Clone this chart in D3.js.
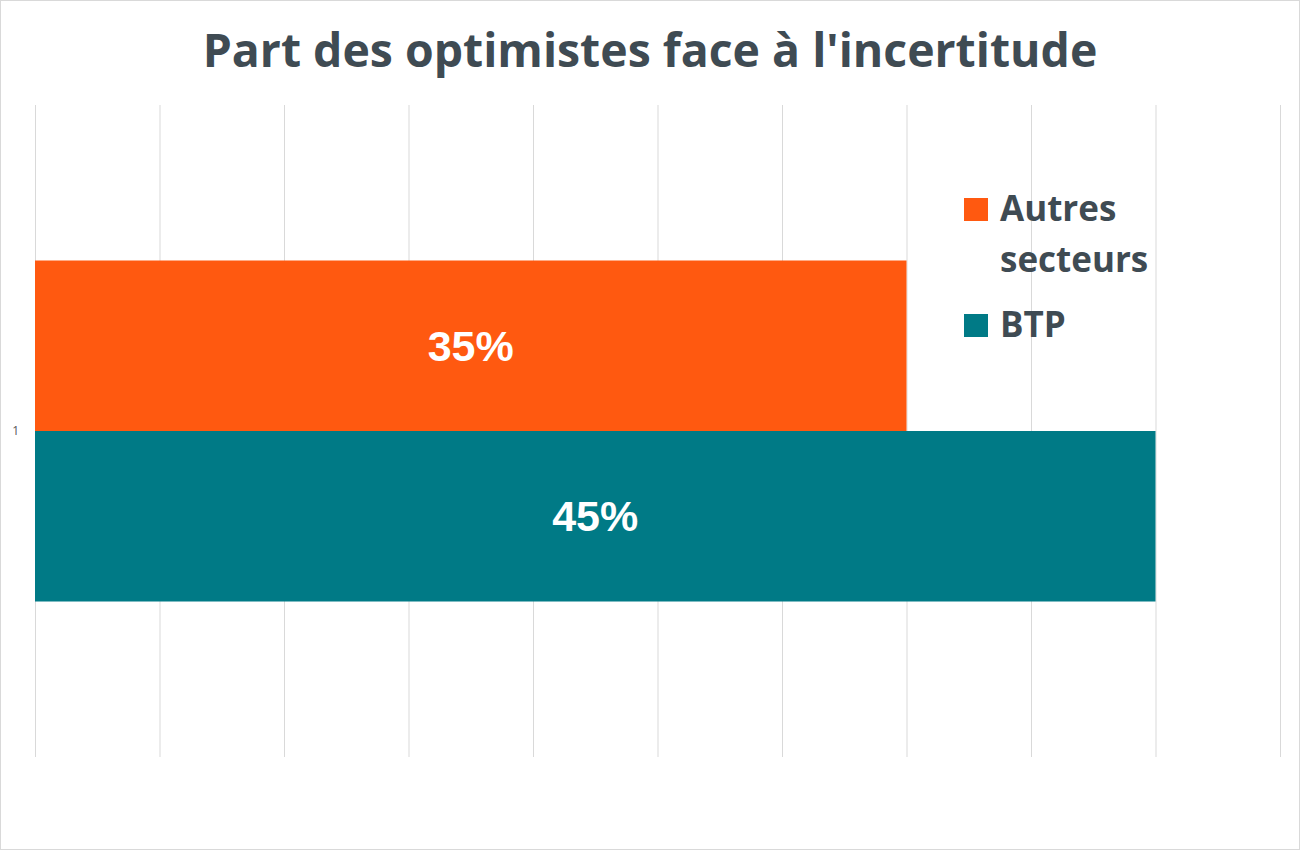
<!DOCTYPE html>
<html>
<head>
<meta charset="utf-8">
<script src="https://cdn.jsdelivr.net/npm/d3@7"></script>
<style>
  body { margin: 0; background: #fff; }
  svg { display: block; }
</style>
</head>
<body>
<svg id="chart" width="1300" height="850"></svg>
<script>
// data
const categories = ["1"];
const seriesNames = ["Autres secteurs", "BTP"];
const seriesValues = [0.35, 0.45];
const seriesColors = ["#ff5910", "#007a86"];
const xTicks = [0, 0.05, 0.1, 0.15, 0.2, 0.25, 0.3, 0.35, 0.4, 0.45, 0.5];
const title = "Part des optimistes face à l'incertitude";

const W = 1300, H = 850;
const plot = { left: 35, right: 1280, top: 105, bottom: 757 };
const textColor = "#3f4b53";
const font = "'Open Sans', 'Noto Sans', sans-serif";

const svg = d3.select("#chart");

// outer border
svg.append("rect")
  .attr("x", 0.5).attr("y", 0.5)
  .attr("width", W - 1).attr("height", H - 1)
  .attr("fill", "#fff")
  .attr("stroke", "#d9d9d9");

// scales
const x = d3.scaleLinear().domain([0, 0.5]).range([plot.left, plot.right]);
const yCat = d3.scaleBand()
  .domain(categories)
  .range([plot.top, plot.bottom])
  .paddingInner(0)
  .paddingOuter(0.456);
const ySeries = d3.scaleBand()
  .domain(seriesNames)
  .range([0, yCat.bandwidth()])
  .padding(0);

// vertical grid lines
svg.append("g")
  .attr("transform", `translate(0,${plot.bottom})`)
  .call(d3.axisBottom(x).tickValues(xTicks).tickSize(-(plot.bottom - plot.top)).tickFormat(""))
  .call(g => g.select(".domain").remove())
  .call(g => g.selectAll(".tick line").attr("stroke", "#d9d9d9").attr("stroke-width", 1));

// category axis
svg.append("g")
  .attr("transform", `translate(${plot.left},0)`)
  .call(d3.axisLeft(yCat).tickSize(0).tickPadding(16))
  .call(g => g.select(".domain").remove())
  .call(g => g.selectAll(".tick text")
    .attr("fill", "#595959")
    .style("font-size", "12px")
    .style("font-family", font));

// bars
const rows = seriesNames.map((s, i) => ({ cat: categories[0], name: s, value: seriesValues[i], color: seriesColors[i] }));

const barG = svg.append("g");
barG.selectAll("rect")
  .data(rows)
  .enter()
  .append("rect")
  .attr("x", x(0))
  .attr("y", d => yCat(d.cat) + ySeries(d.name))
  .attr("width", d => x(d.value) - x(0))
  .attr("height", ySeries.bandwidth())
  .attr("fill", d => d.color);

// value labels
barG.selectAll("text")
  .data(rows)
  .enter()
  .append("text")
  .attr("x", d => (x(0) + x(d.value)) / 2)
  .attr("y", d => yCat(d.cat) + ySeries(d.name) + ySeries.bandwidth() / 2 + 15)
  .attr("text-anchor", "middle")
  .attr("fill", "#fff")
  .style("font-size", "43px")
  .style("font-weight", "700")
  .style("font-family", "'Liberation Sans', Arial, sans-serif")
  .text(d => Math.round(d.value * 100) + "%");

// title
const titleText = svg.append("text")
  .attr("x", W / 2)
  .attr("y", 67)
  .attr("text-anchor", "middle")
  .attr("fill", textColor)
  .style("font-size", "50px")
  .style("font-weight", "700")
  .style("font-family", font)
  .text(title);
// fit to the width seen in the reference
const tw = titleText.node().getComputedTextLength();
titleText.style("font-size", (50 * 894 / tw).toFixed(1) + "px");

// legend
const legend = svg.append("g").attr("transform", "translate(964,0)");
const legendItems = [
  { color: seriesColors[0], lines: ["Autres", "secteurs"], y: 221 },
  { color: seriesColors[1], lines: ["BTP"], y: 337 }
];
legendItems.forEach(item => {
  legend.append("rect")
    .attr("x", 0)
    .attr("y", item.y - 23)
    .attr("width", 24)
    .attr("height", 23)
    .attr("fill", item.color);
  item.lines.forEach((ln, j) => {
    legend.append("text")
      .attr("x", 36)
      .attr("y", item.y + j * 51)
      .attr("fill", textColor)
      .style("font-size", "35px")
      .style("font-weight", "700")
      .style("font-family", font)
      .text(ln);
  });
});
</script>
</body>
</html>
